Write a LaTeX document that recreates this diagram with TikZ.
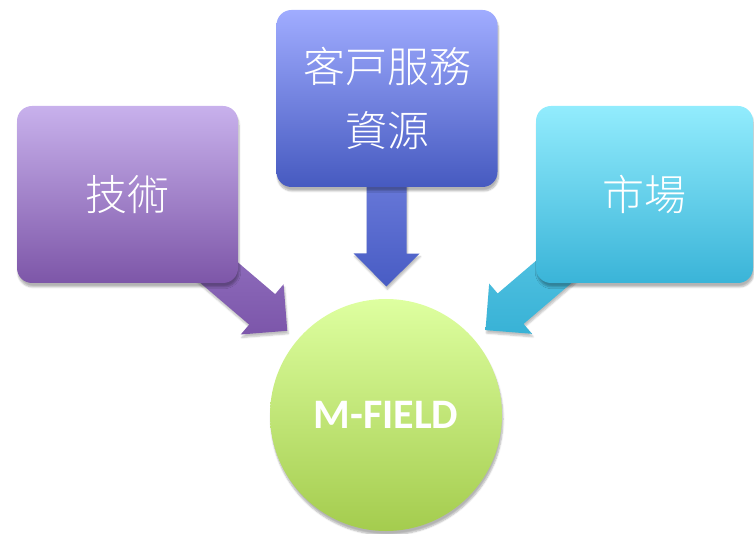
\documentclass[tikz,border=0pt]{standalone}
\usepackage{fontspec}
\newfontfamily\cjkfont{Noto Sans CJK TC}[UprightFont=* Light]
\newfontfamily\latinfont{Carlito}
\usetikzlibrary{calc,backgrounds,shadows.blur}
\definecolor{techtop}{RGB}{200,177,236}
\definecolor{techbot}{RGB}{125,86,168}
\definecolor{srvtop}{RGB}{160,172,255}
\definecolor{srvbot}{RGB}{70,90,192}
\definecolor{mkttop}{RGB}{146,236,253}
\definecolor{mktbot}{RGB}{58,180,216}
\definecolor{mftop}{RGB}{222,255,160}
\definecolor{mfbot}{RGB}{164,204,78}
\tikzset{
	topicbox/.style={rectangle,rounded corners=15pt,minimum width=221pt,
		minimum height=177pt,text=white,align=center,
		font=\cjkfont\fontsize{42pt}{64pt}\selectfont,
		blur shadow={shadow xshift=1pt,shadow yshift=-4pt,shadow blur steps=6,shadow opacity=30}},
	fieldcircle/.style={circle,minimum size=232pt,text=white,
		font=\latinfont\bfseries\fontsize{42pt}{50pt}\selectfont,
		blur shadow={shadow xshift=1pt,shadow yshift=-4pt,shadow blur steps=6,shadow opacity=30}},
	arrowshadow/.style={blur shadow={shadow xshift=1pt,shadow yshift=-3pt,shadow blur steps=5,shadow opacity=25}}
}
\begin{document}
\begin{tikzpicture}[x=1pt,y=1pt]
	\useasboundingbox (0,0) rectangle (754,533);
	\node[topicbox,top color=techtop,bottom color=techbot] (tech) at (127.5,338.5) {技術};
	\node[topicbox,top color=srvtop,bottom color=srvbot] (srv) at (387,434.5) {客戸服務\\資源};
	\node[topicbox,minimum width=217pt,top color=mkttop,bottom color=mktbot] (mkt) at (644.5,338.5) {市場};
	\node[fieldcircle,top color=mftop,bottom color=mfbot] (mf) at (386,118) {M-FIELD};
	\begin{scope}[on background layer]
		%arrow heads start here
		\coordinate (techhead) at ($(tech.center)!177pt!(mf.center)$);
		\coordinate (srvhead) at ($(srv.center)!155pt!(mf.center)$);
		\coordinate (mkthead) at ($(mkt.center)!176pt!(mf.center)$);
		%technique
		\shade[arrowshadow,top color={rgb,255:red,158;green,128;blue,204},bottom color={rgb,255:red,124;green,86;blue,170}]
			($(tech.center)!20pt!90:(mf.center)$) -- ($(techhead)!20pt!90:(mf.center)$)
			-- ($(techhead)!33pt!90:(mf.center)$) -- ($(tech.center)!210pt!(mf.center)$)
			-- ($(techhead)!33pt!-90:(mf.center)$) -- ($(techhead)!20pt!-90:(mf.center)$)
			-- ($(tech.center)!20pt!-90:(mf.center)$) -- cycle;
		%service
		\shade[arrowshadow,top color={rgb,255:red,128;green,142;blue,232},bottom color={rgb,255:red,72;green,92;blue,196}]
			($(srv.center)!20pt!90:(mf.center)$) -- ($(srvhead)!20pt!90:(mf.center)$)
			-- ($(srvhead)!33pt!90:(mf.center)$) -- ($(srv.center)!188pt!(mf.center)$)
			-- ($(srvhead)!33pt!-90:(mf.center)$) -- ($(srvhead)!20pt!-90:(mf.center)$)
			-- ($(srv.center)!20pt!-90:(mf.center)$) -- cycle;
		%market
		\shade[arrowshadow,top color={rgb,255:red,102;green,206;blue,234},bottom color={rgb,255:red,56;green,178;blue,214}]
			($(mkt.center)!20pt!90:(mf.center)$) -- ($(mkthead)!20pt!90:(mf.center)$)
			-- ($(mkthead)!33pt!90:(mf.center)$) -- ($(mkt.center)!209pt!(mf.center)$)
			-- ($(mkthead)!33pt!-90:(mf.center)$) -- ($(mkthead)!20pt!-90:(mf.center)$)
			-- ($(mkt.center)!20pt!-90:(mf.center)$) -- cycle;
	\end{scope}
\end{tikzpicture}
\end{document}
